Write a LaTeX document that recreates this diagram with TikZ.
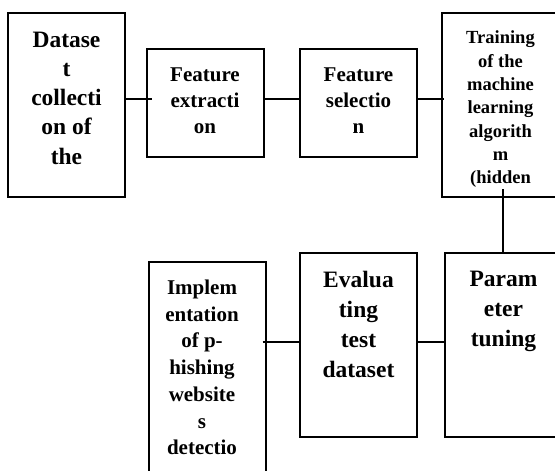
\documentclass[tikz,border=0pt]{standalone}
\usepackage{fontspec}
\setmainfont{Liberation Serif}

% text of a box: height, font size, line skip, lines
\newcommand{\boxtext}[4]{\parbox[c][#1][t]{117pt}{\centering
  \fontsize{#2}{#3}\selectfont\bfseries\vspace*{18pt}#4}}

\tikzset{
  stage/.style={draw, line width=2pt, inner sep=0pt},
  link/.style={line width=2pt},
}

\begin{document}
\begin{tikzpicture}[x=1pt, y=-1pt]
    \useasboundingbox (0,0) rectangle (555,471);
    \clip (0,0) rectangle (555,471);
    % top row
    \node[stage] (dataset) at (66.5,105)
        {\boxtext{184pt}{23.5}{29.2}{\vspace*{1pt}Datase\\t\\collecti\\on of\\the}};
    \node[stage] (extract) at (205,103)
        {\boxtext{108pt}{21}{26}{\vspace*{1pt}Feature\\extracti\\on}};
    \node[stage] (select) at (358.5,103)
        {\boxtext{108pt}{21}{26}{\vspace*{1pt}Feature\\selectio\\n}};
    \node[stage] (train) at (500.5,105)
        {\boxtext{184pt}{18.5}{23.3}{Training\\of the\\machine\\learning\\algorith\\m\\(hidden}};
    % bottom row
    \node[stage] (param) at (503.5,345)
        {\boxtext{184pt}{23.5}{30}{Param\\eter\\tuning}};
    \node[stage] (evaluate) at (358.5,345)
        {\boxtext{184pt}{23.5}{30}{Evalua\\ting\\test\\dataset}};
    \node[stage] (implement) at (207,373)
        {\boxtext{222pt}{21}{26.7}{\rightskip=10pt plus 1fil
        Implem\\entation\\of p-\\hishing\\website\\s\\detectio}};
    % links
    \draw[link, shorten >=-6pt] ([yshift=6pt]dataset.east) -- ([yshift=4pt]extract.west);
    \draw[link] ([yshift=4pt]extract.east) -- ([yshift=4pt]select.west);
    \draw[link, shorten >=-3pt] ([yshift=4pt]select.east) -- ([yshift=6pt]train.west);
    \draw[link] ([xshift=2pt,yshift=9pt]train.south) -- ([xshift=-1pt]param.north);
    \draw[link] ([yshift=3pt]evaluate.east) -- ([yshift=3pt]param.west);
    \draw[link, shorten <=-4pt] ([yshift=31pt]implement.east) -- ([yshift=3pt]evaluate.west);
\end{tikzpicture}
\end{document}
